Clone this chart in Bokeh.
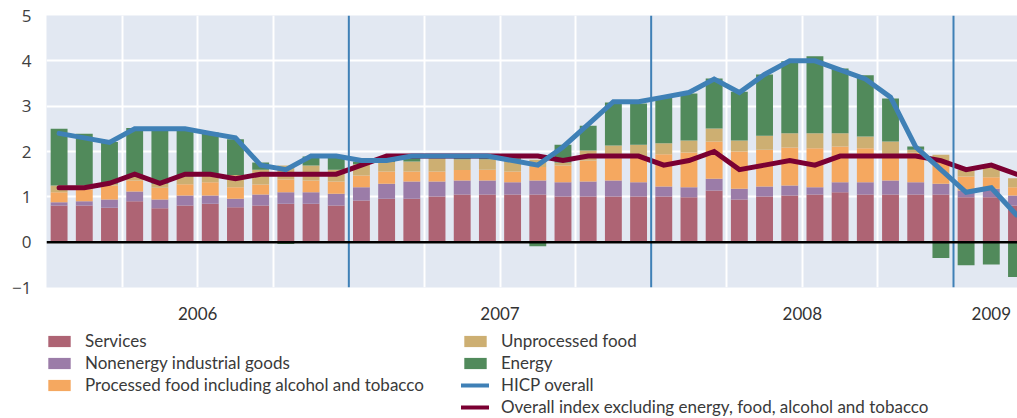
import numpy as np
from bokeh.plotting import figure
from bokeh.layouts import column
from bokeh.models import (ColumnDataSource, Span, FixedTicker, Legend, LegendItem, Range1d)
from bokeh.embed import file_html
from bokeh.resources import INLINE

# ---------------- data (percentage points, year-on-year) ----------------
months = [f"{y}-{m:02d}" for y in (2006, 2007, 2008) for m in range(1, 13)] + ["2009-01", "2009-02", "2009-03"]
years = ["2006", "2007", "2008", "2009"]

services = [0.81, 0.81, 0.76, 0.90, 0.75, 0.81, 0.85, 0.77, 0.81, 0.85, 0.85, 0.81,
            0.92, 0.96, 0.96, 1.01, 1.05, 1.05, 1.05, 1.05, 1.01, 1.01, 1.01, 1.01,
            1.01, 0.99, 1.14, 0.94, 1.01, 1.03, 1.05, 1.10, 1.05, 1.05, 1.05, 1.05,
            0.99, 0.99, 0.81]
nonenergy = [0.07, 0.09, 0.18, 0.22, 0.19, 0.22, 0.18, 0.19, 0.24, 0.25, 0.25, 0.26,
             0.29, 0.33, 0.38, 0.33, 0.31, 0.31, 0.27, 0.31, 0.31, 0.33, 0.35, 0.31,
             0.22, 0.22, 0.26, 0.24, 0.22, 0.22, 0.16, 0.22, 0.27, 0.31, 0.27, 0.24,
             0.15, 0.19, 0.22]
processed = [0.22, 0.26, 0.31, 0.24, 0.26, 0.25, 0.29, 0.25, 0.22, 0.28, 0.26, 0.27,
             0.26, 0.27, 0.22, 0.22, 0.23, 0.24, 0.24, 0.30, 0.37, 0.46, 0.49, 0.56,
             0.71, 0.77, 0.82, 0.82, 0.81, 0.84, 0.86, 0.79, 0.75, 0.57, 0.65, 0.49,
             0.31, 0.25, 0.18]
unprocessed = [0.15, 0.09, 0.04, 0.09, 0.09, 0.17, 0.14, 0.27, 0.33, 0.31, 0.33, 0.26,
               0.25, 0.21, 0.22, 0.29, 0.24, 0.23, 0.26, 0.16, 0.07, 0.22, 0.28, 0.27,
               0.24, 0.26, 0.29, 0.24, 0.31, 0.31, 0.33, 0.29, 0.26, 0.29, 0.07, 0.15,
               0.15, 0.22, 0.20]
energy = [1.25, 1.14, 0.92, 1.07, 1.21, 1.05, 0.96, 0.79, 0.16, -0.04, 0.20, 0.26,
          0.06, 0.05, 0.08, 0.03, 0.05, 0.05, 0.03, -0.09, 0.39, 0.55, 0.95, 0.91,
          1.02, 1.04, 1.10, 1.08, 1.35, 1.59, 1.70, 1.43, 1.35, 0.95, 0.07, -0.35,
          -0.51, -0.49, -0.77]
hicp = [2.4, 2.3, 2.2, 2.5, 2.5, 2.5, 2.4, 2.3, 1.7, 1.6, 1.9, 1.9,
        1.8, 1.8, 1.9, 1.9, 1.9, 1.9, 1.8, 1.7, 2.1, 2.6, 3.1, 3.1,
        3.2, 3.3, 3.6, 3.3, 3.7, 4.0, 4.0, 3.8, 3.6, 3.2, 2.1, 1.6,
        1.1, 1.2, 0.6]
core = [1.2, 1.2, 1.3, 1.5, 1.3, 1.5, 1.5, 1.4, 1.5, 1.5, 1.5, 1.5,
        1.7, 1.9, 1.9, 1.9, 1.9, 1.9, 1.9, 1.9, 1.8, 1.9, 1.9, 1.9,
        1.7, 1.8, 2.0, 1.6, 1.7, 1.8, 1.7, 1.9, 1.9, 1.9, 1.9, 1.8,
        1.6, 1.7, 1.5]
y_ticks = [-1, 0, 1, 2, 3, 4, 5]

labels_left = ["Services", "Nonenergy industrial goods",
               "Processed food including alcohol and tobacco"]
labels_right = ["Unprocessed food", "Energy", "HICP overall",
                "Overall index excluding energy, food, alcohol and tobacco"]

# ---------------- derived stacking ----------------
n = len(months)
x = np.arange(n)
s = np.array(services)
t1 = s + np.array(nonenergy)
t2 = t1 + np.array(processed)
t3 = t2 + np.array(unprocessed)
e = np.array(energy)
e_bot = np.where(e >= 0, t3, 0.0)
e_top = np.where(e >= 0, t3 + e, e)

src = ColumnDataSource(dict(x=x, b0=np.zeros(n), t0=s, t1=t1, t2=t2, t3=t3,
                            eb=e_bot, et=e_top, hicp=hicp, core=core))

# ---------------- colours ----------------
C_SERV = "#AE6474"
C_NONEN = "#9B7CA8"
C_PROC = "#F5A860"
C_UNPROC = "#CDAF72"
C_ENERGY = "#518A5B"
C_HICP = "#3F80B6"
C_CORE = "#7B0032"
BG = "#E2E8F2"
BAR_COLORS = [C_SERV, C_NONEN, C_PROC, C_UNPROC, C_ENERGY]

W_TOTAL = 1017
H_MAIN = 328
H_LEG = 90
FRAME_LEFT = 46

p = figure(width=W_TOTAL, height=H_MAIN, output_backend="svg", toolbar_location=None,
           x_range=Range1d(-0.5, 38.04), y_range=Range1d(-1, 5),
           min_border_left=FRAME_LEFT, min_border_right=0, min_border_top=15, min_border_bottom=41,
           background_fill_color=BG, border_fill_color="white", outline_line_color=None)

# grid
year_first = [i for i, m in enumerate(months) if m.endswith("-01") and i > 0]
quarter_bounds = [i - 0.5 for i in range(3, n + 1, 3) if i % 12 != 0]
p.xgrid.ticker = FixedTicker(ticks=quarter_bounds)
p.xgrid.grid_line_color = "white"
p.xgrid.grid_line_width = 2
p.ygrid.ticker = FixedTicker(ticks=y_ticks)
p.ygrid.grid_line_color = "white"
p.ygrid.grid_line_width = 2

W = 0.67
bounds = [("b0", "t0"), ("t0", "t1"), ("t1", "t2"), ("t2", "t3"), ("eb", "et")]
for (b, t), c in zip(bounds, BAR_COLORS):
    p.vbar(x="x", bottom=b, top=t, width=W, source=src, fill_color=c, line_color=None)

for i in year_first:
    p.add_layout(Span(location=i - 0.5, dimension="height", line_color=C_HICP, line_width=2))
p.add_layout(Span(location=0, dimension="width", line_color="black", line_width=2.5))

p.line(x="x", y="core", source=src, line_color=C_CORE, line_width=5,
       line_join="miter", line_cap="round")
p.line(x="x", y="hicp", source=src, line_color=C_HICP, line_width=5,
       line_join="miter", line_cap="round")

# axes
p.yaxis.ticker = FixedTicker(ticks=y_ticks)
p.yaxis.major_label_overrides = {-1: "\u22121"}
p.yaxis.axis_line_color = None
p.yaxis.major_tick_line_color = None
p.yaxis.minor_tick_line_color = None
p.yaxis.major_tick_out = 0
p.yaxis.major_label_standoff = 15
p.yaxis.major_label_text_font = "Open Sans"
p.yaxis.major_label_text_font_size = "17px"
p.yaxis.major_label_text_color = "#404040"

year_pos = [float(np.mean([i for i, m in enumerate(months) if m.startswith(y)])) for y in years]
p.xaxis.ticker = FixedTicker(ticks=year_pos)
p.xaxis.major_label_overrides = {pos: y for pos, y in zip(year_pos, years)}
p.xaxis.axis_line_color = None
p.xaxis.major_tick_line_color = None
p.xaxis.minor_tick_line_color = None
p.xaxis.major_tick_out = 0
p.xaxis.major_label_standoff = 19
p.xaxis.major_label_text_font = "Lato"
p.xaxis.major_label_text_font_size = "17px"
p.xaxis.major_label_text_color = "#333333"

# ---------------- legend panel ----------------
q = figure(width=W_TOTAL, height=H_LEG, output_backend="svg", toolbar_location=None,
           x_range=Range1d(0, W_TOTAL), y_range=Range1d(0, H_LEG),
           x_axis_type=None, y_axis_type=None,
           min_border_left=FRAME_LEFT, min_border_right=0, min_border_top=0, min_border_bottom=0,
           background_fill_color="white", border_fill_color="white", outline_line_color=None)
q.xgrid.visible = False
q.ygrid.visible = False

# placeholder renderers (zero-size) that only supply legend swatches
dummy = ColumnDataSource(dict(x=[0], y=[0], b=[0], t=[0]))
leg_bars = [q.vbar(x="x", bottom="b", top="t", width=0, source=dummy, fill_color=c, line_color=None)
            for c in BAR_COLORS]
leg_hicp = q.line(x="x", y="y", source=dummy, line_color=C_HICP, line_width=4, line_cap="round")
leg_core = q.line(x="x", y="y", source=dummy, line_color=C_CORE, line_width=4, line_cap="round")

legend_style = dict(orientation="vertical", padding=0, margin=0, spacing=1,
                    glyph_width=28, glyph_height=14, label_standoff=12, label_height=21,
                    label_text_font="Lato", label_text_font_size="17px",
                    label_text_color="#3a3a3a", border_line_alpha=0,
                    background_fill_alpha=0)
leg1 = Legend(items=[LegendItem(label=lab, renderers=[r]) for lab, r in zip(labels_left, leg_bars[:3])],
              location=(-1, 23), **legend_style)
leg2 = Legend(items=[LegendItem(label=lab, renderers=[r])
                     for lab, r in zip(labels_right, leg_bars[3:] + [leg_hicp, leg_core])],
              location=(415, 1), **legend_style)
q.add_layout(leg1)
q.add_layout(leg2)

layout = column(p, q, spacing=0)
open("out.html", "w").write(file_html(layout, INLINE))
